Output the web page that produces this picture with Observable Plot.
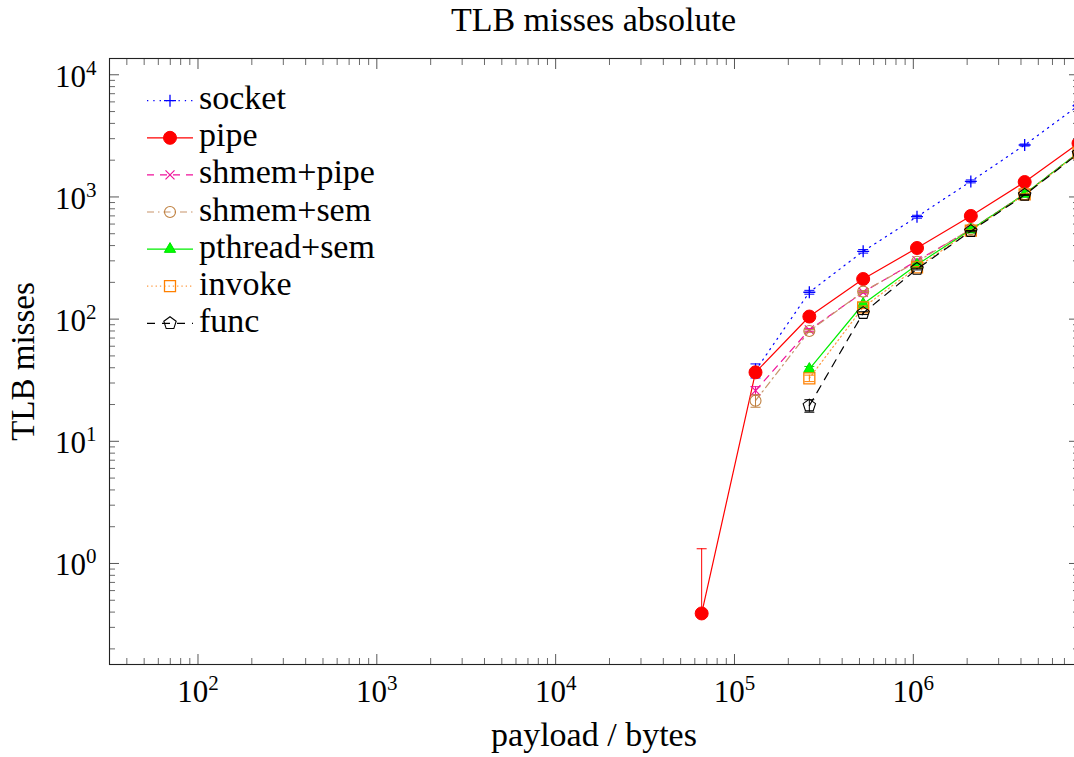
<!DOCTYPE html>
<html><head><meta charset="utf-8">
<script src="https://cdn.jsdelivr.net/npm/d3@7"></script>
<script src="https://cdn.jsdelivr.net/npm/@observablehq/plot@0.6"></script>
<style>
html,body{margin:0;padding:0;background:#fff;overflow:hidden;}
#wrap{position:relative;width:1074px;height:757px;overflow:hidden;}
#title{position:absolute;left:109px;width:969px;top:0;height:45px;text-align:center;font-family:"Liberation Serif",serif;font-size:34px;line-height:34px;padding-top:3px;box-sizing:border-box;color:#000;}
#chart{position:absolute;left:0;top:45px;}
</style></head><body>
<div id="wrap"><div id="title">TLB misses absolute</div><div id="chart"></div></div>
<script>
// ---- data ----
const payloads = [65536, 131072, 262144, 524288, 1048576, 2097152, 4194304, 8388608];
const seriesNames = ["socket", "pipe", "shmem+pipe", "shmem+sem", "pthread+sem", "invoke", "func"];
const socketVals     = [null, 38,   166,  359, 689, 1341, 2661, 5600];
const pipeVals       = [0.39, 36.7, 105,  213, 382, 699,  1325, 2750];
const shmemPipeVals  = [null, 26,   81.6, 166, 301, 540,  1057, 2320];
const shmemSemVals   = [null, 21.5, 80,   168, 295, 545,  1050, 2300];
const pthreadVals    = [null, null, 39,   133, 279, 540,  1057, 2310];
const invokeVals     = [null, null, 32.8, 125, 265, 530,  1050, 2290];
const funcVals       = [null, null, 19.6, 112, 257, 525,  1040, 2270];
const socketErr      = [null, 5,    6,    12,  19,  37,   50,   100];
const pipeErr        = [0.93, 1.5,  2,    3,   4,   6,    10,   20];
const shmemPipeErr   = [null, 2,    2,    3,   4,   6,    10,   20];
const shmemSemErr    = [null, 2.5,  2,    3,   4,   6,    10,   20];
const pthreadErr     = [null, null, 2,    3,   4,   6,    10,   20];
const invokeErr      = [null, null, 2,    3,   4,   6,    10,   20];
const funcErr        = [null, null, 2.3,  3,   4,   6,    10,   20];
const xMajorTicks = [1e2, 1e3, 1e4, 1e5, 1e6];
const yMajorTicks = [1, 10, 100, 1000, 10000];

// ---- symbols ----
const R = size => Math.sqrt(size / Math.PI);
const plusSym = {draw(c, s){const r=R(s); c.moveTo(-r,0); c.lineTo(r,0); c.moveTo(0,-r); c.lineTo(0,r);}};
const timesSym = {draw(c, s){const r=R(s)*0.75; c.moveTo(-r,-r); c.lineTo(r,r); c.moveTo(-r,r); c.lineTo(r,-r);}};
const circleSym = {draw(c, s){const r=R(s); c.moveTo(r,0); c.arc(0,0,r,0,2*Math.PI);}};
const squareSym = {draw(c, s){const r=R(s); c.moveTo(-r,-r); c.lineTo(r,-r); c.lineTo(r,r); c.lineTo(-r,r); c.closePath();}};
const triSym = {draw(c, s){const r=R(s); c.moveTo(0,-r); c.lineTo(r*0.866,r*0.5); c.lineTo(-r*0.866,r*0.5); c.closePath();}};
const pentSym = {draw(c, s){const r=R(s); for(let k=0;k<5;k++){const a=-Math.PI/2+k*2*Math.PI/5; const px=r*Math.cos(a), py=r*Math.sin(a); k?c.lineTo(px,py):c.moveTo(px,py);} c.closePath();}};
const capSym = {draw(c, s){const r=R(s); c.moveTo(-r,0); c.lineTo(r,0);}};

const styles = [
  {vals: socketVals, err: socketErr, color:"#0000ff", line:"#0000ff", dash:"1.3,5", sym: plusSym, r:6, fill:"none", sw:1.3},
  {vals: pipeVals, err: pipeErr, color:"#ff0000", line:"#ff0000", dash:null, sym: circleSym, r:6.5, fill:"#ff0000", sw:1},
  {vals: shmemPipeVals, err: shmemPipeErr, color:"#f0109a", line:"#f0109a", dash:"7,6", sym: timesSym, r:6, fill:"none", sw:1.2},
  {vals: shmemSemVals, err: shmemSemErr, color:"#bf8040", line:"#c8946a", dash:"7,4,1.5,4", sym: circleSym, r:5.5, fill:"none", sw:1.1},
  {vals: pthreadVals, err: pthreadErr, color:"#00e000", line:"#00ee00", dash:null, sym: triSym, r:6.5, fill:"#00ff00", sw:1},
  {vals: invokeVals, err: invokeErr, color:"#ff8000", line:"#ff9a40", dash:"1.3,3", sym: squareSym, r:5.5, fill:"none", sw:1.3},
  {vals: funcVals, err: funcErr, color:"#000000", line:"#000000", dash:"8,7", sym: pentSym, r:6.5, fill:"none", sw:1.1}
];

const rows = styles.map((s, i) => payloads.map((p, j) => ({name: seriesNames[i], x: p, y: s.vals[j], e: s.err[j]})).filter(d => d.y != null));

const minors = (lo, hi) => {
  const out = [];
  for (let k = Math.floor(Math.log10(lo)); k <= Math.ceil(Math.log10(hi)); k++)
    for (let m = 2; m <= 9; m++) { const v = m * Math.pow(10, k); if (v >= lo && v <= hi) out.push(v); }
  return out;
};
const xDomain = [32, 8388608];
const yDomain = [0.149, 13590];
const xMinor = minors(xDomain[0], xDomain[1]);
const yMinor = minors(yDomain[0], yDomain[1]);
const supFmt = d => "10^" + Math.round(Math.log10(d));
const blank = () => "";
const tickStroke = "#444";
const MAJ = 10, MIN = 6;

const seriesMarks = [];
styles.forEach((s, i) => {
  const data = rows[i];
  seriesMarks.push(Plot.line(data, {x: "x", y: "y", stroke: s.line, strokeWidth: 1.2, strokeDasharray: s.dash, clip: true}));
  seriesMarks.push(Plot.ruleX(data, {x: "x", y1: d => d.y - d.e > 0 ? d.y - d.e : d.y, y2: d => d.y + d.e, stroke: s.color, strokeWidth: 1, clip: true}));
  seriesMarks.push(Plot.dot(data, {x: "x", y: d => d.y + d.e, symbol: capSym, r: 5, stroke: s.color, strokeWidth: 1, fill: "none", clip: true}));
  seriesMarks.push(Plot.dot(data.filter(d => d.y - d.e > 0), {x: "x", y: d => d.y - d.e, symbol: capSym, r: 5, stroke: s.color, strokeWidth: 1, fill: "none", clip: true}));
  seriesMarks.push(Plot.dot(data, {x: "x", y: "y", symbol: s.sym, r: s.r, stroke: s.color, fill: s.fill, strokeWidth: s.sw, clip: true}));
});

const font = "Liberation Serif";
const tickAxis = (axis, anchor, ticks, size, sw) => {
  const shift = anchor === "bottom" ? {dy: -size} : anchor === "top" ? {dy: size} : anchor === "left" ? {dx: size} : {dx: -size};
  return axis({anchor, ticks, tickSize: size, tickFormat: blank, label: null, stroke: tickStroke, strokeWidth: sw, ...shift});
};
const chart = Plot.plot({
  width: 1074, height: 712,
  marginLeft: 109, marginRight: -4, marginTop: 13, marginBottom: 93,
  x: {type: "log", domain: xDomain},
  y: {type: "log", domain: yDomain},
  style: {fontFamily: font, background: "#fff", color: "#000"},
  marks: [
    ...seriesMarks,
    // inward ticks
    tickAxis(Plot.axisX, "bottom", xMajorTicks, MAJ, 0.9),
    tickAxis(Plot.axisX, "bottom", xMinor, MIN, 0.8),
    tickAxis(Plot.axisX, "top", xMajorTicks, MAJ, 0.9),
    tickAxis(Plot.axisX, "top", xMinor, MIN, 0.8),
    tickAxis(Plot.axisY, "left", yMajorTicks, MAJ, 0.9),
    tickAxis(Plot.axisY, "left", yMinor, MIN, 0.8),
    tickAxis(Plot.axisY, "right", yMajorTicks, MAJ, 0.9),
    tickAxis(Plot.axisY, "right", yMinor, MIN, 0.8),
    Plot.frame({stroke: "#222", strokeWidth: 1.1}),
    // labels
    Plot.axisX({anchor: "bottom", ticks: xMajorTicks, tickSize: 0, tickPadding: 15, tickFormat: supFmt, label: null, fontSize: 31, fill: "#000"}),
    Plot.axisY({anchor: "left", ticks: yMajorTicks, tickSize: 0, tickPadding: 13, tickFormat: supFmt, label: null, fontSize: 31, fill: "#000", dy: 2}),
    Plot.text(["payload / bytes"], {frameAnchor: "bottom", dy: 81, lineAnchor: "bottom", textAnchor: "middle", fontSize: 34, fill: "#000"}),
    Plot.text(["TLB misses"], {frameAnchor: "left", dx: -86, rotate: -90, lineAnchor: "middle", textAnchor: "middle", fontSize: 33, fill: "#000"})
  ]
});
document.getElementById("chart").appendChild(chart);

// superscript exponents on tick labels
d3.select(chart).selectAll('g[aria-label="x-axis tick label"] text, g[aria-label="y-axis tick label"] text').each(function() {
  const t = d3.select(this);
  const s = t.text();
  if (!s.includes("^")) return;
  const [base, exp] = s.split("^");
  t.text(null);
  t.append("tspan").text(base);
  t.append("tspan").attr("dy", -12).attr("font-size", 21).text(exp);
});

// legend (inside plot, top-left)
const lg = d3.select(chart).append("g").attr("font-family", font).attr("font-size", 34).attr("text-anchor", "start");
styles.forEach((s, i) => {
  const cy = 55.7 + i * 37.1;
  lg.append("line").attr("x1", 147).attr("x2", 193).attr("y1", cy).attr("y2", cy)
    .attr("stroke", s.line).attr("stroke-width", 1.2).attr("stroke-dasharray", s.dash);
  lg.append("path").attr("transform", `translate(170,${cy})`)
    .attr("d", d3.symbol(s.sym, Math.PI * s.r * s.r)())
    .attr("stroke", s.color).attr("fill", s.fill).attr("stroke-width", s.sw);
  lg.append("text").attr("x", 199).attr("y", cy + 8.5).attr("text-anchor", "start").attr("fill", "#000").text(seriesNames[i]);
});
</script>
</body></html>
